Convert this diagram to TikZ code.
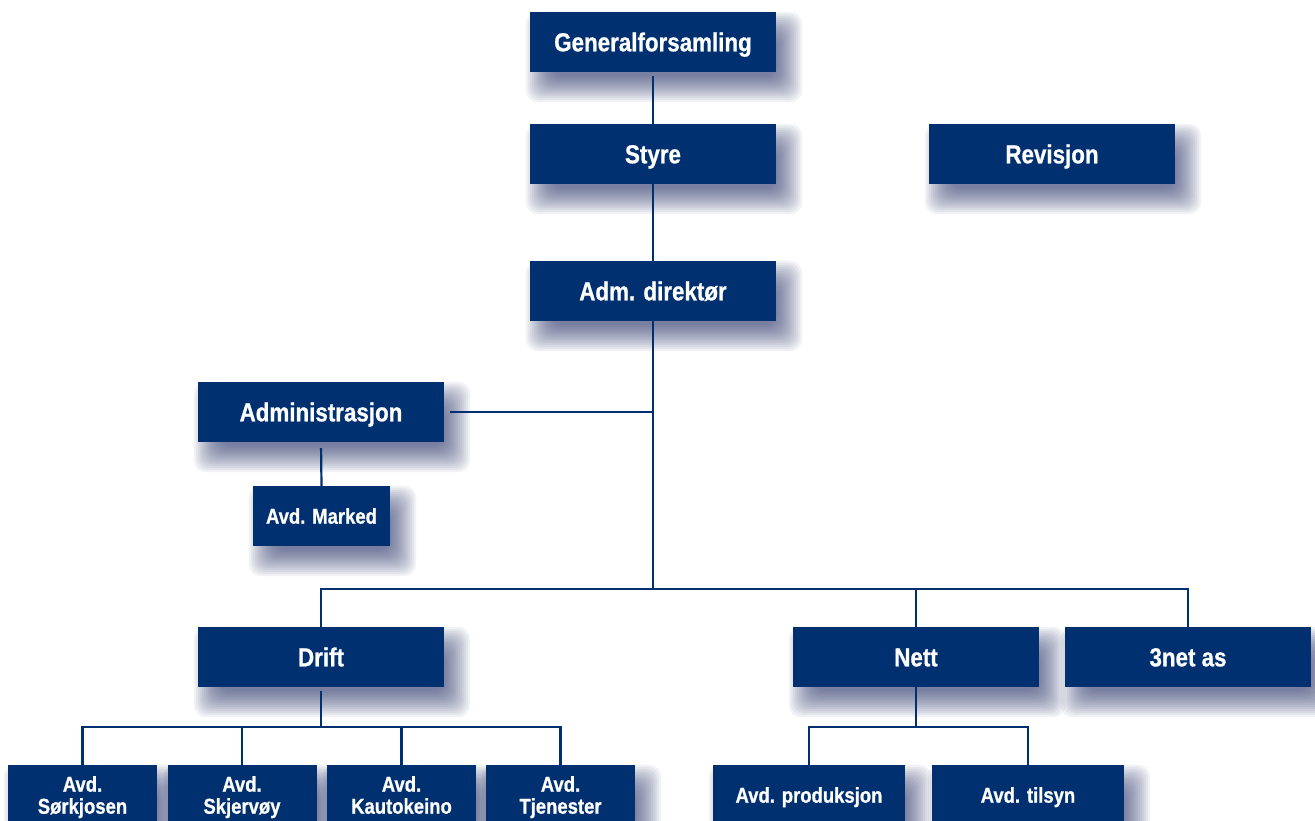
\documentclass[tikz,border=0pt]{standalone}
\usepackage{fontspec}
\newfontfamily\boxfont{Liberation Sans}[FakeStretch=0.86, BoldFeatures={FakeBold=0.8}]
\pgfdeclarelayer{background}
\pgfsetlayers{background,main}
\definecolor{navy}{HTML}{003070}
\definecolor{shadowc}{HTML}{1C2660}
\tikzset{
  orgbox/.style={fill=navy, text=white, inner sep=0pt, minimum width=246pt, minimum height=60pt,
    font=\boxfont\bfseries\fontsize{26}{30}\selectfont, text height=18.6pt, text depth=0pt},
  smallbox/.style={orgbox, font=\boxfont\bfseries\fontsize{21.5}{22}\selectfont, text height=15.4pt},
  twoline/.style={smallbox, align=center, text height=37.4pt, text depth=0pt},
  conn/.style={draw=navy, line width=2.2pt}
}
\begin{document}
\begin{tikzpicture}[x=1pt,y=-1pt]
\begin{pgfonlayer}{background}
\fill[white] (0,0) rectangle (1315,821);
\end{pgfonlayer}
\useasboundingbox (0,0) rectangle (1315,821);
% nodes
\node[orgbox] (gen) at (653,42) {Generalforsamling};
\node[orgbox] (styre) at (653,154) {Styre};
\node[orgbox] (rev) at (1052,154) {Revisjon};
\node[orgbox] (adm) at (653,291) {Adm. direktør};
\node[orgbox] (admin) at (321,412) {Administrasjon};
\node[smallbox, minimum width=137pt] (marked) at (321.5,516) {Avd. Marked};
\node[orgbox] (drift) at (321,657) {Drift};
\node[orgbox] (nett) at (916,657) {Nett};
\node[orgbox] (tre) at (1188,657) {3net as};
\node[twoline, minimum width=149pt] (sor) at (82.5,795) {Avd.\\Sørkjosen};
\node[twoline, minimum width=149pt] (skj) at (242,795) {Avd.\\Skjervøy};
\node[twoline, minimum width=149pt] (kau) at (401.5,795) {Avd.\\Kautokeino};
\node[twoline, minimum width=149pt] (tje) at (560.5,795) {Avd.\\Tjenester};
\node[smallbox, minimum width=192pt] (prod) at (809,795) {Avd. produksjon};
\node[smallbox, minimum width=192pt] (til) at (1028,795) {Avd. tilsyn};
% junctions
\coordinate (j1) at (653,589);
\coordinate (j2) at (321,727);
\coordinate (j3) at (916,727);
% connectors
\draw[conn, shorten <=4pt] (gen.south) -- (styre.north);
\draw[conn] (styre.south) -- (adm.north);
\draw[conn] (adm.south) -- (j1);
\draw[conn, shorten <=6pt] (admin.east) -- (adm.south |- admin.east);
\draw[conn, shorten <=6pt] (admin.south) -- (marked.north);
\draw[conn] (j1) -| (drift.north);
\draw[conn] (j1) -| (nett.north);
\draw[conn] (j1) -| (tre.north);
\draw[conn, shorten <=4pt] (drift.south) -- (j2);
\draw[conn] (j2) -| (sor.north);
\draw[conn] (j2) -| (skj.north);
\draw[conn] (j2) -| (kau.north);
\draw[conn] (j2) -| (tje.north);
\draw[conn] (nett.south) -- (j3);
\draw[conn] (j3) -| (prod.north);
\draw[conn] (j3) -| (til.north);
% shadows
\begin{pgfonlayer}{background}
\foreach \n in {gen,styre,rev,adm,admin,marked,drift,nett,tre,sor,skj,kau,tje,prod,til}{
  \foreach \r in {15,13,...,-11}{
    \fill[shadowc, opacity=0.06, rounded corners=12pt]
      ([xshift={11pt-\r pt}, yshift={-15pt-\r pt}]\n.south west) rectangle
      ([xshift={11pt+\r pt}, yshift={-15pt+\r pt}]\n.north east);
  }
}
\end{pgfonlayer}
\end{tikzpicture}
\end{document}
